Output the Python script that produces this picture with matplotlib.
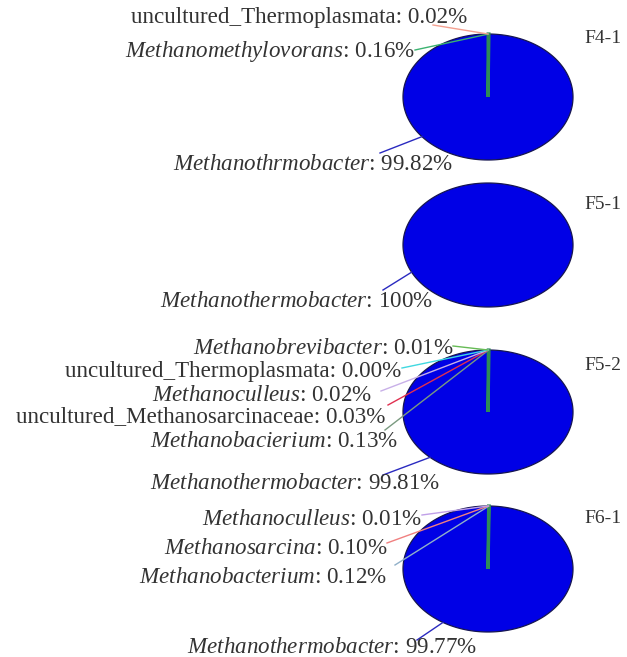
import numpy as np
import matplotlib
matplotlib.use("Agg")
import matplotlib.pyplot as plt
from matplotlib.patches import Polygon

plt.rcParams["font.family"] = ["Liberation Serif", "DejaVu Serif"]
plt.rcParams["mathtext.fontset"] = "custom"
plt.rcParams["mathtext.rm"] = "Liberation Serif"
plt.rcParams["mathtext.it"] = "Liberation Serif:italic"

# relative abundance (%) of methanogen genera per sample
f41_names = ["Methanothrmobacter", "Methanomethylovorans", "uncultured_Thermoplasmata"]
f41_values = [99.82, 0.16, 0.02]

f51_names = ["Methanothermobacter"]
f51_values = [100]

f52_names = ["Methanothermobacter", "Methanobacierium", "uncultured_Methanosarcinaceae",
             "Methanoculleus", "uncultured_Thermoplasmata", "Methanobrevibacter"]
f52_values = [99.81, 0.13, 0.03, 0.02, 0.00, 0.01]

f61_names = ["Methanothermobacter", "Methanobacterium", "Methanosarcina", "Methanoculleus"]
f61_values = [99.77, 0.12, 0.10, 0.01]

samples = ["F4-1", "F5-1", "F5-2", "F6-1"]

# layout in pixels (y grows downwards)
CX, RX = 488, 85
centers_y = [97, 245, 412, 569]
radii_y = [63, 62, 62, 63]
major_anchor = [219, 206, 227, 238]   # where the big slice's leader meets the rim

# text right edge, text centre y, leader start x, leader start y
label_pos = [
    [(453, 163, 380, 153), (415, 50, 415, 50), (467, 16, 433, 25)],
    [(433, 300, 383, 290)],
    [(440, 482, 383, 475), (398, 440, 385, 430), (385, 415, 388, 405),
     (372, 394, 381, 391), (401, 370, 402, 368), (454, 347, 453, 346)],
    [(477, 646, 417, 640), (387, 576, 395, 565), (388, 547, 387, 543),
     (422, 518, 422, 515)],
]
leader_colors = [
    ["#2a2ac0", "#3cb371", "#f4a090"],
    ["#2a2ac0"],
    ["#2a2ac0", "#7a9a80", "#e03050", "#c8b0e8", "#40d8e0", "#66bb55"],
    ["#2a2ac0", "#90b0c8", "#f08080", "#c0a0e8"],
]
BLUE = "#0000e6"
GREEN = "#2e8b57"
TEXT = "#333333"


def rim(cy, ry, ang):
    a = np.radians(ang)
    return CX + RX * np.cos(a), cy - ry * np.sin(a)


def wedge_poly(cy, ry, t1, t2):
    t = np.linspace(t1, t2, max(int(abs(t2 - t1)) * 2, 2))
    xs, ys = rim(cy, ry, t)
    if abs(t2 - t1) >= 359.999:
        return np.column_stack([xs, ys])
    return np.column_stack([np.r_[CX, xs, CX], np.r_[cy, ys, cy]])


def label_text(name, value):
    pct = "100%" if value == 100 else f"{value:.2f}%"
    if name.startswith("uncultured_"):
        return f"{name}: {pct}"
    return rf"$\mathit{{{name}}}$: {pct}"


fig = plt.figure(figsize=(6.27, 6.57), dpi=100)
ax = fig.add_axes([0, 0, 1, 1])
ax.set_xlim(0, 627)
ax.set_ylim(657, 0)
ax.axis("off")

panels = [(f41_names, f41_values), (f51_names, f51_values),
          (f52_names, f52_values), (f61_names, f61_values)]

for i, (names, values) in enumerate(panels):
    cy, ry = centers_y[i], radii_y[i]
    vals = np.array(values, dtype=float)
    angles = 90 + np.r_[0, np.cumsum(vals / vals.sum() * 360)]

    # big slice first, then the slivers just right of 12 o'clock
    ax.add_patch(Polygon(wedge_poly(cy, ry, angles[0], angles[1]), closed=True,
                         facecolor=BLUE, edgecolor="#161650", lw=0.9, zorder=2))
    minor = list(range(1, len(vals)))
    big_minor = max(minor, key=lambda k: vals[k]) if minor else None
    for k in sorted(minor, key=lambda k: k == big_minor):
        if vals[k] <= 0:
            continue
        col = GREEN if k == big_minor else leader_colors[i][k]
        ax.add_patch(Polygon(wedge_poly(cy, ry, angles[k], angles[k + 1]), closed=True,
                             facecolor=col, edgecolor=col,
                             lw=2.3 if k == big_minor else 0.5, zorder=3))

    for k, name in enumerate(names):
        tx, ty, lx, ly = label_pos[i][k]
        if k == 0:
            ex, ey = rim(cy, ry, major_anchor[i])
        else:
            ex, ey = rim(cy, ry, (angles[k] + angles[k + 1]) / 2)
        ax.plot([lx, ex], [ly, ey], color=leader_colors[i][k], lw=1.0, zorder=4)
        ax.text(tx, ty + 7, label_text(name, values[k]), ha="right", va="baseline",
                fontsize=16.6, color=TEXT, zorder=5)

label_y = [38, 204, 365, 518]
for s, y in zip(samples, label_y):
    ax.text(584, y + 5, s, ha="left", va="baseline", fontsize=14, color=TEXT)

fig.savefig("out.png", dpi=100)
